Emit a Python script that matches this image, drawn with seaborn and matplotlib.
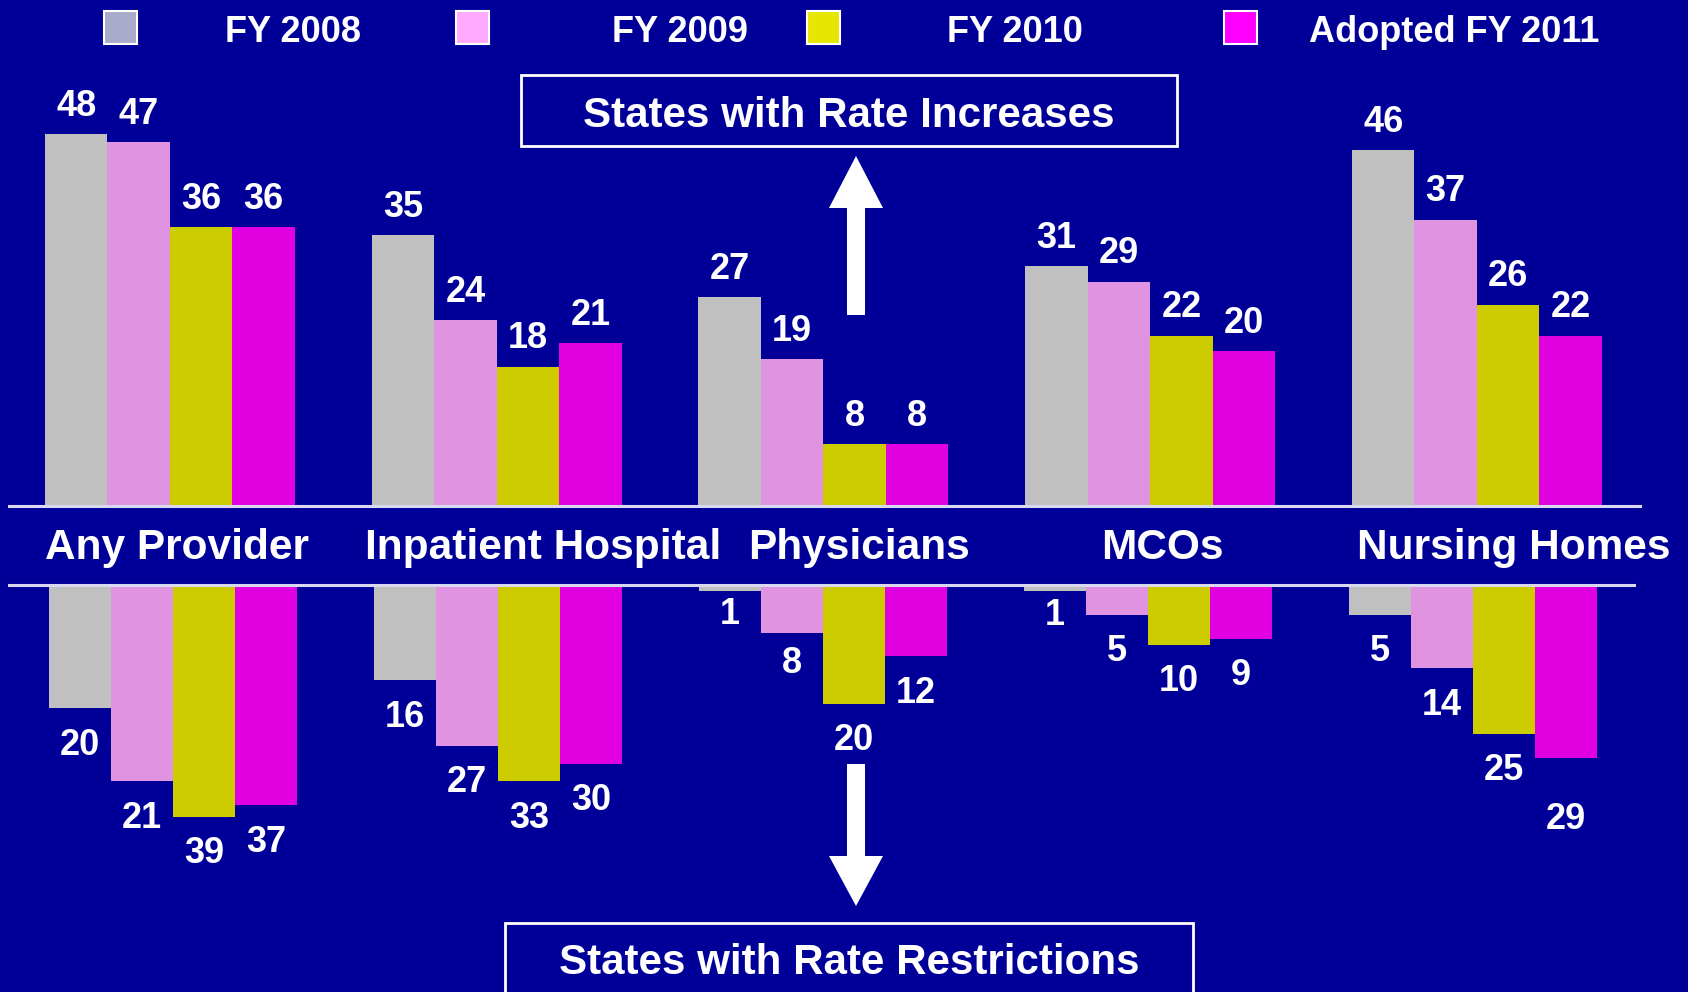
import matplotlib
matplotlib.use("Agg")
import matplotlib.pyplot as plt
import seaborn as sns
import pandas as pd
from matplotlib.patches import Rectangle, Polygon
from matplotlib.lines import Line2D

plt.rcParams['font.family'] = ['Liberation Sans', 'DejaVu Sans']
plt.rcParams['font.weight'] = 'bold'

# ---------------- data ----------------
categories = ["Any Provider", "Inpatient Hospital", "Physicians", "MCOs", "Nursing Homes"]
years = ["FY 2008", "FY 2009", "FY 2010", "Adopted FY 2011"]
increases_2008 = [48, 35, 27, 31, 46]
increases_2009 = [47, 24, 19, 29, 37]
increases_2010 = [36, 18, 8, 22, 26]
increases_2011 = [36, 21, 8, 20, 22]
# bar lengths of the restriction bars as drawn
restrict_2008 = [20.7, 16, 1, 1, 5]
restrict_2009 = [33, 27, 8, 5, 14]
restrict_2010 = [39, 33, 20, 10, 25]
restrict_2011 = [37, 30, 12, 9, 29]
# printed labels of the restriction bars
restrict_labels_2008 = ["20", "16", "1", "1", "5"]
restrict_labels_2009 = ["21", "27", "8", "5", "14"]
restrict_labels_2010 = ["39", "33", "20", "10", "25"]
restrict_labels_2011 = ["37", "30", "12", "9", "29"]

bar_colors = ["#C0C0C0", "#E093E0", "#CCCC00", "#E000E0"]
legend_colors = ["#A9ABCB", "#FFAAFF", "#E6E600", "#FF00FF"]
BG = "#000099"

def long_df(series):
    rows = []
    for y, vals in zip(years, series):
        for c, v in zip(categories, vals):
            rows.append({"category": c, "year": y, "value": v})
    return pd.DataFrame(rows)

df_inc = long_df([increases_2008, increases_2009, increases_2010, increases_2011])
df_res = long_df([restrict_2008, restrict_2009, restrict_2010, restrict_2011])

# ---------------- figure ----------------
W, H = 1688, 992
fig = plt.figure(figsize=(W / 100, H / 100), dpi=100, facecolor=BG)

def fx(x):
    return x / W

def fy(y):
    return 1 - y / H

VAL_FS = 26

# top panel (increases)
ax_top = fig.add_axes([0, fy(506), 1, 506 / H])
sns.barplot(data=df_inc, x="category", y="value", hue="year", order=categories,
            hue_order=years, palette=bar_colors, saturation=1, width=0.765,
            linewidth=0, ax=ax_top, legend=False)
ax_top.set_xlim(-0.520, 4.646)
ax_top.set_ylim(0, 506 / 7.74)
for cont in ax_top.containers:
    ax_top.bar_label(cont, padding=7.5, color="white", fontsize=VAL_FS, fontweight="bold")
ax_top.axis("off")

# bottom panel (restrictions)
ax_bot = fig.add_axes([0, 0, 1, (H - 585) / H])
sns.barplot(data=df_res, x="category", y="value", hue="year", order=categories,
            hue_order=years, palette=bar_colors, saturation=1, width=0.765,
            linewidth=0, ax=ax_bot, legend=False)
ax_bot.set_xlim(-0.532, 4.662)
ax_bot.set_ylim((H - 585) / 5.95, 0)
label_sets = [restrict_labels_2008, restrict_labels_2009, restrict_labels_2010, restrict_labels_2011]
# label offset below bar end (points); a few labels sit closer / further
base_off = 26.6
special_off = {(0, 2): 17.0, (0, 3): 17.5, (1, 2): 22.0, (3, 4): 44.5}
for hi, (cont, labs) in enumerate(zip(ax_bot.containers, label_sets)):
    for ci, (patch, lab) in enumerate(zip(cont.patches, labs)):
        xc = patch.get_x() + patch.get_width() / 2
        yend = patch.get_y() + patch.get_height()
        off = special_off.get((hi, ci), base_off)
        ax_bot.annotate(lab, (xc, yend), xytext=(0, -off), textcoords="offset points",
                        ha="center", va="center", color="white", fontsize=VAL_FS,
                        fontweight="bold")
ax_bot.axis("off")

# separator lines
fig.add_artist(Line2D([fx(9), fx(1640)], [fy(506), fy(506)], color="#D8D8F0", lw=2.2))
fig.add_artist(Line2D([fx(9), fx(1634)], [fy(585), fy(585)], color="#D8D8F0", lw=2.2))

# category labels
label_x = [177, 543, 859, 1162, 1514]
for cx, name in zip(label_x, categories):
    fig.text(fx(cx), fy(548), name, color="white", fontsize=30.5, fontweight="bold",
             ha="center", va="center")

# legend
sw_x = [104, 456, 807, 1224]
txt_x = [225, 612, 947, 1309]
for sx, tx, col, lab in zip(sw_x, txt_x, legend_colors, years):
    fig.add_artist(Rectangle((fx(sx), fy(44)), fx(33), 33 / H, facecolor=col,
                             edgecolor="white", lw=1.5))
    fig.text(fx(tx), fy(33), lab, color="white", fontsize=26, fontweight="bold",
             ha="left", va="center")

# title boxes
fig.add_artist(Rectangle((fx(521), fy(146)), fx(656), 71 / H, facecolor="none",
                         edgecolor="white", lw=2))
fig.text(fx(849), fy(116), "States with Rate Increases", color="white", fontsize=30.3,
         fontweight="bold", ha="center", va="center")
fig.add_artist(Rectangle((fx(505), fy(1000)), fx(688), 77 / H, facecolor="none",
                         edgecolor="white", lw=2))
fig.text(fx(849), fy(963), "States with Rate Restrictions", color="white", fontsize=30.3,
         fontweight="bold", ha="center", va="center")

# arrows
def arrow(xc, tip, base, shaft_end, hw, sw):
    pts = [(xc, tip), (xc + hw / 2, base), (xc + sw / 2, base), (xc + sw / 2, shaft_end),
           (xc - sw / 2, shaft_end), (xc - sw / 2, base), (xc - hw / 2, base)]
    fig.add_artist(Polygon([(fx(a), fy(b)) for a, b in pts], closed=True,
                           facecolor="white", edgecolor="none"))

arrow(856, 156, 208, 315, 54, 18)
arrow(856, 906, 856, 764, 54, 18)

fig.savefig("out.png", dpi=100, facecolor=BG)
